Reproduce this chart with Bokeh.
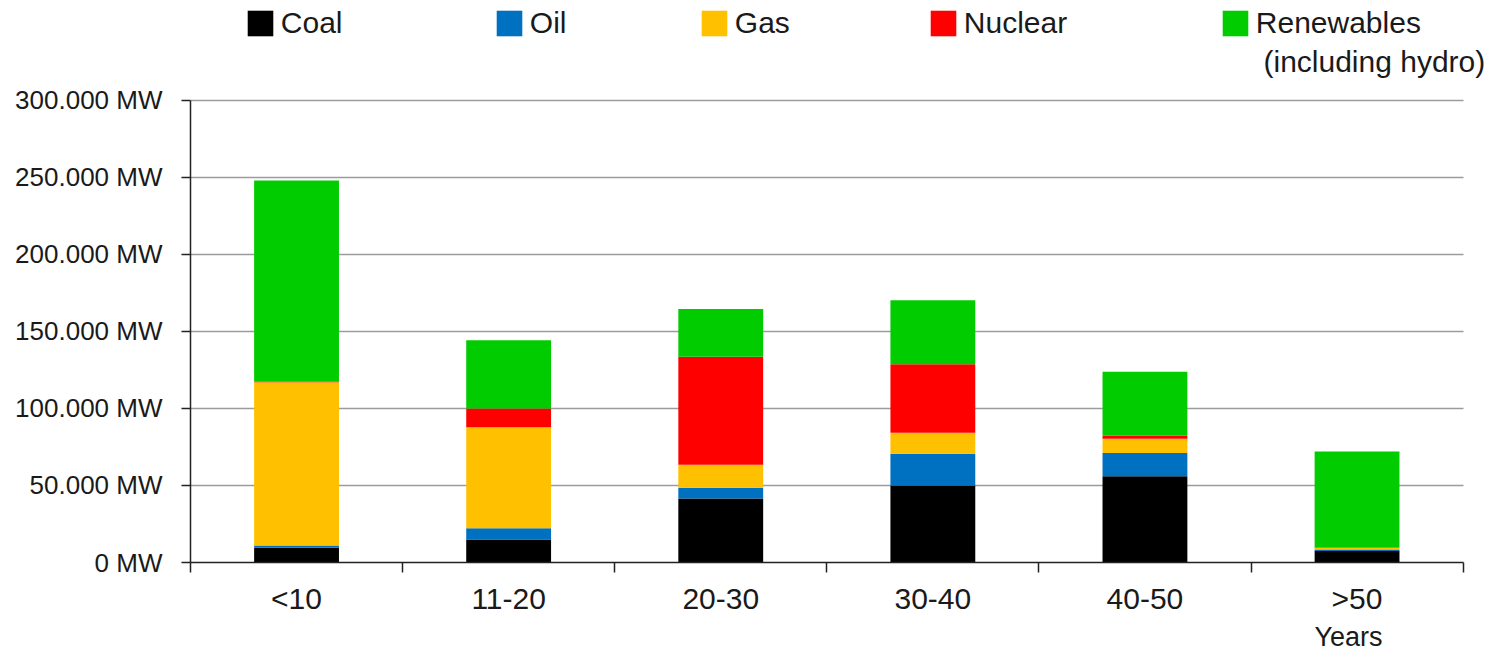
from bokeh.plotting import figure
from bokeh.models import (ColumnDataSource, Range1d, FixedTicker, Legend, LegendItem,
                          Label, LinearAxis)
from bokeh.embed import file_html
from bokeh.resources import INLINE

# ---- data (MW) ----
categories = ["<10", "11-20", "20-30", "30-40", "40-50", ">50"]
coal = [9500, 15000, 41500, 50000, 56000, 7500]
oil = [1500, 7200, 7000, 20600, 15000, 1000]
gas = [106000, 65600, 15000, 13600, 9300, 1000]
nuclear = [500, 12200, 70000, 44500, 2000, 0]
renewables = [130500, 44200, 31000, 41500, 41500, 62500]

series_names = ["Coal", "Oil", "Gas", "Nuclear", "Renewables"]
series_colors = ["#000000", "#0070C0", "#FFC000", "#FF0000", "#00CC00"]

y_ticks = [0, 50000, 100000, 150000, 200000, 250000, 300000]
y_tick_labels = ["0 MW", "50.000 MW", "100.000 MW", "150.000 MW",
                 "200.000 MW", "250.000 MW", "300.000 MW"]
x_unit_label = "Years"
renewables_note = "(including hydro)"

FONT = "Liberation Sans"
TXT = "#1a1a1a"
AX = "#222222"

W, H = 1499, 654
LEFT, BOTTOM = 190, 91
TOP_PX = 100      # canvas y of the 300.000 MW gridline
AXIS_W = 1272.6   # px width of the category axis
frame_h = H - BOTTOM
frame_w = W - LEFT
n = len(categories)
y_max = y_ticks[-1] * frame_h / (frame_h - TOP_PX)  # frame reaches canvas top
x_max = n * frame_w / AXIS_W                         # frame reaches canvas right

xs = [i + 0.5 for i in range(n)]
source = ColumnDataSource(dict(x=xs, Coal=coal, Oil=oil, Gas=gas,
                               Nuclear=nuclear, Renewables=renewables))

p = figure(width=W, height=H, output_backend="svg", toolbar_location=None,
           x_range=Range1d(0, x_max), y_range=Range1d(0, y_max),
           min_border_left=LEFT, min_border_right=0, min_border_top=0,
           min_border_bottom=BOTTOM)
p.outline_line_color = None
p.background_fill_color = "white"
p.border_fill_color = "white"

renderers = p.vbar_stack(series_names, x="x", width=0.4, color=series_colors,
                         line_color=None, source=source)

# grid
p.xgrid.visible = False
p.ygrid.ticker = FixedTicker(ticks=y_ticks)
p.ygrid.cross_bounds = (0, n)
p.ygrid.grid_line_color = "#9c9c9c"
p.ygrid.grid_line_width = 1.7

# y axis
ya = p.yaxis[0]
ya.bounds = (y_ticks[0], y_ticks[-1])
ya.ticker = FixedTicker(ticks=y_ticks, minor_ticks=[])
ya.major_label_overrides = {t: l for t, l in zip(y_ticks, y_tick_labels)}
ya.major_label_text_font = FONT
ya.major_label_text_font_size = "26px"
ya.major_label_text_color = TXT
ya.major_tick_out = 9
ya.major_tick_in = 0
ya.major_label_standoff = 19
ya.axis_line_color = AX
ya.axis_line_width = 1.5
ya.major_tick_line_color = AX
ya.major_tick_line_width = 1.5

# x axis
xa = p.xaxis[0]
xa.bounds = (0, n)
xa.ticker = FixedTicker(ticks=xs, minor_ticks=list(range(n + 1)))
xa.major_label_overrides = {x: c for x, c in zip(xs, categories)}
xa.major_label_text_font = FONT
xa.major_label_text_font_size = "30px"
xa.major_label_text_color = TXT
xa.major_tick_out = 0
xa.major_tick_in = 0
xa.minor_tick_out = 10
xa.minor_tick_in = 0
xa.minor_tick_line_color = AX
xa.minor_tick_line_width = 1.5
xa.major_label_standoff = 9
xa.axis_line_color = AX
xa.axis_line_width = 1.5

# "Years" unit label under the last category (tick label of a bare axis)
years_at = xs[-1] - 0.04
xa2 = LinearAxis(ticker=FixedTicker(ticks=[years_at], minor_ticks=[]),
                 major_label_overrides={years_at: x_unit_label},
                 major_label_text_font=FONT, major_label_text_font_size="27px",
                 major_label_text_color=TXT, major_label_standoff=4,
                 axis_line_color=None, major_tick_line_color=None,
                 minor_tick_line_color=None, major_tick_out=0, minor_tick_out=0,
                 major_tick_in=0, minor_tick_in=0)
p.add_layout(xa2, "below")

# legends (one per series, positioned across the top)
legend_x = [53.8, 302.8, 507.8, 736.8, 1028.8]
for name, r, lx in zip(series_names, renderers, legend_x):
    lg = Legend(items=[LegendItem(label=name, renderers=[r])],
                location=(lx, 522), orientation="horizontal",
                glyph_width=32, glyph_height=32, label_standoff=5,
                padding=0, margin=0, spacing=0,
                border_line_color=None, background_fill_alpha=0,
                label_text_font=FONT, label_text_font_size="30px",
                label_text_color=TXT)
    p.add_layout(lg, "center")

p.add_layout(Label(x=1073, y=501, x_units="screen", y_units="screen",
                   text=renewables_note, text_font=FONT, text_font_size="30px",
                   text_color=TXT, text_baseline="alphabetic", text_align="left"))

open("out.html", "w").write(file_html(p, INLINE))
